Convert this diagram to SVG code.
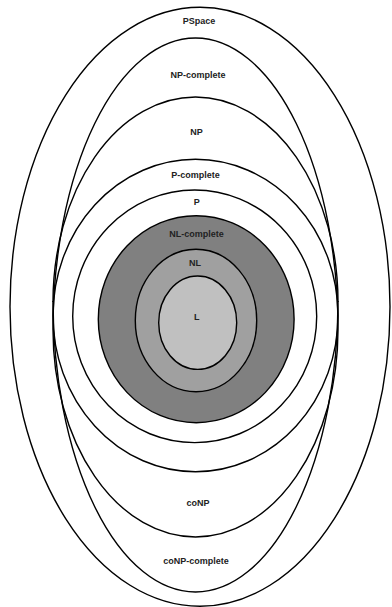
<svg xmlns="http://www.w3.org/2000/svg" width="392" height="607" viewBox="0 0 392 607">
<style>
.ln{fill:none;stroke:#000;stroke-width:1.4}
.sh{stroke:#000;stroke-width:1.4}
.lb{font-family:"Liberation Sans",Arial,sans-serif;font-size:9px;font-weight:bold;fill:#222;text-anchor:middle}
</style>
<rect width="392" height="607" fill="#fff"/>
<g id="pspace">
<ellipse class="ln" cx="200" cy="306.8" rx="190" ry="299.5"/>
<text class="lb" x="199" y="24">PSpace</text>
</g>
<g id="np-complete">
<path class="ln" d="M53,330 A142.5,292 0 0 1 338,330"/>
<text class="lb" x="198" y="78">NP-complete</text>
</g>
<g id="np">
<path class="ln" d="M53,302 A142.5,205 0 0 1 338,302"/>
<text class="lb" x="196.5" y="135">NP</text>
</g>
<g id="conp-complete">
<path class="ln" d="M53,301 A142.5,291 0 0 0 338,301"/>
<text class="lb" x="196" y="564">coNP-complete</text>
</g>
<g id="conp">
<path class="ln" d="M53,330 A142.5,207 0 0 0 338,330"/>
<text class="lb" x="198" y="506">coNP</text>
</g>
<g id="p-complete">
<ellipse class="ln" cx="195.5" cy="315.5" rx="142.5" ry="156.2"/>
<text class="lb" x="195.5" y="177.5">P-complete</text>
</g>
<g id="p">
<ellipse class="ln" cx="194.7" cy="316.3" rx="122" ry="126.3"/>
<text class="lb" x="196.7" y="205">P</text>
</g>
<g id="nl-complete">
<ellipse class="sh" fill="#808080" cx="196.2" cy="319.2" rx="97.9" ry="103.5"/>
<text class="lb" x="196.5" y="236.5">NL-complete</text>
</g>
<g id="nl">
<ellipse class="sh" fill="#a0a0a0" cx="196" cy="320.5" rx="60.7" ry="71.2"/>
<text class="lb" x="195" y="265.5">NL</text>
</g>
<g id="l">
<ellipse class="sh" fill="#c0c0c0" cx="197.7" cy="322.7" rx="39" ry="46.7"/>
<text class="lb" x="196.8" y="320">L</text>
</g>
<g id="connectors"></g>
</svg>
